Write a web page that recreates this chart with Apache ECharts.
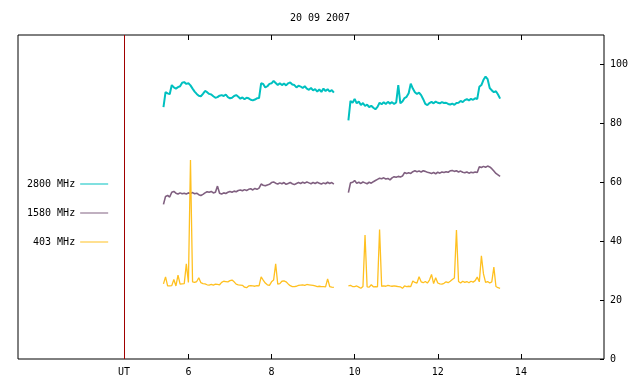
<!DOCTYPE html>
<html><head><meta charset="utf-8">
<script src="https://cdn.jsdelivr.net/npm/echarts@6/dist/echarts.min.js"></script>
<style>html,body{margin:0;padding:0;background:#fff}#c{width:640px;height:384px}</style>
</head><body><div id="c"></div>
<script>
const chartTitle = '20 09 2007';
const seriesNames = ['2800 MHz', '1580 MHz', '403 MHz'];
const xTicks = [6, 8, 10, 12, 14];
const yTicks = [0, 20, 40, 60, 80, 100];
const markerTime = 4.45;
const markerLabel = 'UT';

const t1 = [5.40,5.45,5.50,5.55,5.60,5.65,5.70,5.75,5.80,5.85,
5.90,5.95,6.00,6.05,6.10,6.15,6.20,6.25,6.30,6.35,
6.40,6.45,6.50,6.55,6.60,6.65,6.70,6.75,6.80,6.85,
6.90,6.95,7.00,7.05,7.10,7.15,7.20,7.25,7.30,7.35,
7.40,7.45,7.50,7.55,7.60,7.65,7.70,7.75,7.80,7.85,
7.90,7.95,8.00,8.05,8.10,8.15,8.20,8.25,8.30,8.35,
8.40,8.45,8.50,8.55,8.60,8.65,8.70,8.75,8.80,8.85,
8.90,8.95,9.00,9.05,9.10,9.15,9.20,9.25,9.30,9.35,
9.40,9.45,9.50];
const t2 = [9.85,9.90,9.95,10.00,10.05,10.10,10.15,10.20,10.25,10.30,
10.35,10.40,10.45,10.50,10.55,10.60,10.65,10.70,10.75,10.80,
10.85,10.90,10.95,11.00,11.05,11.10,11.15,11.20,11.25,11.30,
11.35,11.40,11.45,11.50,11.55,11.60,11.65,11.70,11.75,11.80,
11.85,11.90,11.95,12.00,12.05,12.10,12.15,12.20,12.25,12.30,
12.35,12.40,12.45,12.50,12.55,12.60,12.65,12.70,12.75,12.80,
12.85,12.90,12.95,13.00,13.05,13.10,13.15,13.20,13.25,13.30,
13.35,13.40,13.45,13.50];

const v2800a = [85.5,90.6,90.2,89.9,93.0,92.2,91.8,92.3,92.6,93.8,
94.0,93.4,93.6,92.9,91.8,90.8,90.0,89.4,89.2,90.0,
91.0,90.6,90.0,89.8,89.2,88.7,88.9,89.4,89.6,89.3,
89.8,88.9,88.5,88.7,89.3,89.6,89.0,88.4,88.8,88.2,
88.7,88.5,88.0,87.8,88.1,88.5,88.6,93.6,93.4,92.2,
92.6,93.4,93.6,94.4,93.7,93.0,93.6,93.0,93.5,92.9,
93.6,93.9,93.2,93.0,92.2,92.8,92.5,92.0,92.6,91.8,
91.4,92.0,91.2,91.6,90.8,91.5,90.7,91.8,91.0,91.6,
90.8,91.3,90.4];
const v2800b = [81.0,87.6,87.0,88.3,86.8,87.4,86.2,86.9,85.9,86.4,
85.5,86.0,85.3,84.8,85.6,87.0,86.5,87.2,86.6,87.3,
86.7,87.2,86.6,87.1,93.0,86.8,87.4,88.6,89.0,90.2,
93.5,91.8,90.6,90.0,90.4,89.6,88.2,86.6,86.2,86.9,
87.3,86.8,87.4,87.0,86.8,87.2,86.9,87.0,86.6,86.4,
86.7,86.3,86.9,87.0,87.6,87.2,87.9,88.2,87.8,88.3,
88.0,88.5,88.3,92.4,93.0,94.8,95.9,95.0,92.0,91.2,
90.6,90.9,89.8,88.4];

const v1580a = [52.5,55.2,55.5,55.0,56.6,56.9,56.3,56.0,56.4,56.1,
56.3,56.0,56.4,56.2,56.5,56.1,56.3,55.8,55.5,55.9,
56.4,56.8,56.6,56.9,56.4,56.6,58.7,56.3,56.0,56.4,
56.2,56.6,56.9,56.6,57.0,56.8,57.2,57.4,57.1,57.5,
57.2,57.6,57.8,57.4,57.9,57.6,58.0,59.4,59.0,58.8,
59.1,59.3,59.9,60.1,59.7,59.4,59.8,59.5,59.9,59.3,
59.6,59.9,59.5,59.2,59.6,59.9,59.6,60.0,59.7,60.1,
59.8,59.5,59.9,59.6,60.0,59.7,59.4,59.8,59.5,60.0,
59.6,59.9,59.4];
const v1580b = [56.5,59.8,60.0,60.6,59.7,60.0,59.6,60.1,59.8,59.5,
60.0,59.7,60.2,60.6,61.0,61.4,61.2,61.5,61.1,61.3,
60.8,61.5,61.9,61.7,62.0,61.8,62.1,63.3,63.0,63.2,
63.0,63.6,63.9,63.6,63.8,63.5,63.9,63.7,63.4,63.2,
63.0,63.3,62.9,63.4,63.1,63.5,63.3,63.6,63.4,63.9,
64.0,63.7,63.9,63.5,63.8,63.4,63.2,63.5,63.1,63.4,
63.2,63.5,63.3,65.3,65.0,65.4,65.1,65.5,65.2,64.6,
63.8,63.0,62.5,62.0];

const v403a = [25.5,27.9,24.8,24.8,24.9,27.0,24.8,28.5,25.4,25.5,
25.6,32.3,26.0,67.6,26.2,26.0,26.3,27.6,25.9,25.6,
25.5,25.2,25.1,25.3,25.1,25.4,25.3,25.2,26.0,26.4,
26.3,26.2,26.6,26.8,26.2,25.4,25.2,25.1,25.0,24.4,
24.2,24.8,24.9,24.8,24.7,24.9,24.8,27.9,26.8,25.8,
25.2,25.0,26.2,26.8,32.3,25.4,25.6,26.4,26.5,26.2,
25.5,24.9,24.6,24.6,24.7,25.0,25.1,25.2,25.0,25.3,
25.2,25.1,25.0,24.8,24.6,24.7,24.6,24.6,24.5,27.2,
24.6,24.4,24.3];
const v403b = [24.8,25.0,24.6,24.6,24.8,24.4,24.0,24.6,42.1,24.5,
24.4,25.2,24.5,24.6,24.5,44.0,24.7,24.8,24.7,25.0,
24.8,24.7,24.8,24.7,24.6,24.5,24.0,24.8,24.6,24.7,
24.6,26.5,26.0,25.8,27.9,26.2,25.9,26.3,25.8,26.8,
28.7,25.6,27.6,25.8,25.5,25.4,25.7,26.2,25.9,26.4,
27.0,27.5,43.8,26.3,25.8,26.4,26.0,26.3,25.9,26.4,
26.1,26.6,27.8,26.2,35.0,28.9,26.0,26.3,25.8,26.2,
31.2,24.6,24.2,24.0];

function build(ta, va, tb, vb) {
  const gap = [[(ta[ta.length - 1] + tb[0]) / 2, '-']];
  return ta.map((t, i) => [t, va[i]]).concat(gap, tb.map((t, i) => [t, vb[i]]));
}

const font = 'DejaVu Sans Mono';
const txt = {fontFamily: font, fontSize: 10, color: '#000'};
const colors = ['#00c0c0', '#806080', '#ffc020'];
const widths = [2, 1.6, 1.3];
const datasets = [build(t1, v2800a, t2, v2800b), build(t1, v1580a, t2, v1580b), build(t1, v403a, t2, v403b)];

const chart = echarts.init(document.getElementById('c'), null, {renderer: 'canvas'});
chart.setOption({
  animation: false,
  title: {text: chartTitle, left: 'center', top: 8, textStyle: Object.assign({fontWeight: 'normal'}, txt)},
  legend: {
    orient: 'vertical', left: 27, top: 179, align: 'right', padding: 0,
    icon: 'rect', itemWidth: 28, itemHeight: 1, itemGap: 19,
    textStyle: txt, formatter: n => n.padStart(8), data: seriesNames
  },
  grid: {left: 18, right: 36, top: 35, bottom: 25, show: true, borderColor: '#000', borderWidth: 1, backgroundColor: 'transparent'},
  xAxis: [{
    type: 'value', min: 1.9, max: 16, position: 'bottom',
    axisLine: {show: false}, splitLine: {show: false},
    axisTick: {show: true, inside: true, length: 5, customValues: xTicks, lineStyle: {color: '#000'}},
    axisLabel: Object.assign({customValues: [markerTime].concat(xTicks), margin: 8,
      formatter: v => Math.abs(v - markerTime) < 1e-6 ? markerLabel : String(v)}, txt)
  }, {
    type: 'value', min: 1.9, max: 16, position: 'top',
    axisLine: {show: false}, splitLine: {show: false},
    axisTick: {show: true, inside: true, length: 5, customValues: xTicks, lineStyle: {color: '#000'}},
    axisLabel: {show: false}
  }],
  yAxis: {
    type: 'value', position: 'right', min: 0, max: 110,
    axisLine: {show: false}, splitLine: {show: false},
    axisTick: {show: true, inside: true, length: 4, customValues: yTicks, lineStyle: {color: '#000'}},
    axisLabel: Object.assign({customValues: yTicks, margin: 6}, txt)
  },
  series: seriesNames.map((name, i) => ({
    name: name, type: 'line', xAxisIndex: 0, data: datasets[i],
    symbol: 'none', showSymbol: false, connectNulls: false,
    lineStyle: {color: colors[i], width: widths[i]}, itemStyle: {color: colors[i]},
    markLine: i === 0 ? {
      silent: true, symbol: ['none', 'none'], label: {show: false},
      lineStyle: {color: '#a00000', type: 'solid', width: 1},
      data: [{xAxis: markerTime}]
    } : undefined
  }))
});
</script></body></html>
